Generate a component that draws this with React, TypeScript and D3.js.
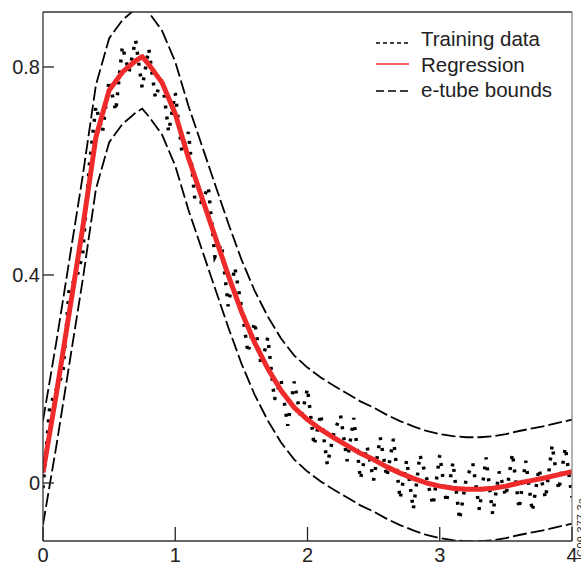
import React from "react";
import * as d3 from "d3";

// Regression curve
const regX = [0, 0.1, 0.2, 0.3, 0.4, 0.5, 0.6, 0.7, 0.75, 0.8, 0.9, 1.0, 1.1, 1.2, 1.3, 1.4, 1.5, 1.6, 1.7, 1.8, 1.9, 2.0, 2.1, 2.2, 2.3, 2.4, 2.5, 2.6, 2.7, 2.8, 2.9, 3.0, 3.1, 3.2, 3.3, 3.4, 3.5, 3.6, 3.7, 3.8, 3.9, 4.0];
const regY = [0.02, 0.17, 0.33, 0.49, 0.665, 0.755, 0.79, 0.812, 0.82, 0.805, 0.77, 0.71, 0.625, 0.55, 0.475, 0.40, 0.33, 0.27, 0.22, 0.178, 0.145, 0.122, 0.103, 0.087, 0.072, 0.057, 0.045, 0.031, 0.019, 0.009, 0.0, -0.006, -0.01, -0.012, -0.012, -0.01, -0.006, 0.0, 0.005, 0.01, 0.016, 0.022];
const upperY = [0.12, 0.27, 0.43, 0.59, 0.765, 0.855, 0.89, 0.912, 0.92, 0.905, 0.87, 0.81, 0.725, 0.65, 0.575, 0.50, 0.43, 0.37, 0.32, 0.278, 0.245, 0.222, 0.203, 0.187, 0.172, 0.157, 0.145, 0.131, 0.119, 0.109, 0.1, 0.094, 0.09, 0.088, 0.088, 0.09, 0.094, 0.1, 0.105, 0.11, 0.116, 0.122];
const lowerY = [-0.08, 0.07, 0.23, 0.39, 0.565, 0.655, 0.69, 0.712, 0.72, 0.705, 0.67, 0.61, 0.525, 0.45, 0.375, 0.30, 0.23, 0.17, 0.12, 0.078, 0.045, 0.022, 0.003, -0.013, -0.028, -0.043, -0.055, -0.069, -0.081, -0.091, -0.1, -0.106, -0.11, -0.112, -0.112, -0.11, -0.106, -0.1, -0.095, -0.09, -0.084, -0.078];

// Noisy training data
const trainX = [0, 0.05, 0.1, 0.15, 0.2, 0.25, 0.3, 0.35, 0.4, 0.45, 0.5, 0.55, 0.6, 0.65, 0.7, 0.75, 0.8, 0.85, 0.9, 0.95, 1.0, 1.05, 1.1, 1.15, 1.2, 1.25, 1.3, 1.35, 1.4, 1.45, 1.5, 1.55, 1.6, 1.65, 1.7, 1.75, 1.8, 1.85, 1.9, 1.95, 2.0, 2.05, 2.1, 2.15, 2.2, 2.25, 2.3, 2.35, 2.4, 2.45, 2.5, 2.55, 2.6, 2.65, 2.7, 2.75, 2.8, 2.85, 2.9, 2.95, 3.0, 3.05, 3.1, 3.15, 3.2, 3.25, 3.3, 3.35, 3.4, 3.45, 3.5, 3.55, 3.6, 3.65, 3.7, 3.75, 3.8, 3.85, 3.9, 3.95, 4.0];
const trainY = [-0.01, 0.145, 0.18, 0.21, 0.38, 0.39, 0.44, 0.61, 0.725, 0.675, 0.775, 0.715, 0.84, 0.79, 0.852, 0.76, 0.835, 0.74, 0.78, 0.675, 0.75, 0.638, 0.675, 0.54, 0.54, 0.57, 0.435, 0.46, 0.34, 0.415, 0.34, 0.25, 0.31, 0.225, 0.28, 0.16, 0.198, 0.11, 0.195, 0.123, 0.182, 0.072, 0.133, 0.035, 0.097, 0.13, 0.042, 0.125, 0.007, 0.071, 0.005, 0.088, 0.011, 0.085, -0.031, 0.044, -0.051, 0.054, 0.01, -0.043, 0.054, -0.038, 0.04, -0.071, 0.008, 0.038, -0.052, 0.049, -0.06, 0.022, -0.026, 0.057, -0.05, 0.043, -0.055, 0.028, -0.03, 0.073, -0.014, 0.069, -0.028];

const xTicks = [0, 1, 2, 3, 4];
const xTickLabels = ["0", "1", "2", "3", "4"];
const yTicks = [0, 0.4, 0.8];
const yTickLabels = ["0", "0.4", "0.8"];
const legendLabels = ["Training data", "Regression", "e-tube bounds"];
const figureId = "IG09-377-3a";

const FONT = "'Liberation Sans', Arial, Helvetica, sans-serif";

export default function App() {
  const W = 581;
  const H = 565;
  const left = 43, right = 572, top = 12, bottom = 541;
  const x = d3.scaleLinear().domain([0, 4]).range([left, right]);
  const y = d3.scaleLinear().domain([0, 0.8]).range([483, 67]);

  const line = d3
    .line<[number, number]>()
    .x((d) => x(d[0]))
    .y((d) => y(d[1]));

  const regPath = line(regX.map((v, i) => [v, regY[i]]) as [number, number][]) || "";
  const upPath = line(regX.map((v, i) => [v, upperY[i]]) as [number, number][]) || "";
  const loPath = line(regX.map((v, i) => [v, lowerY[i]]) as [number, number][]) || "";
  const trainPath = line(trainX.map((v, i) => [v, trainY[i]]) as [number, number][]) || "";

  const legendY = [43, 64, 91];
  const legendTextY = [46, 72, 97];

  return (
    <svg
      width={W}
      height={H}
      style={{ position: "absolute", left: 0, top: 0, background: "#fff" }}
      fontFamily={FONT}
    >
      <defs>
        <clipPath id="plot">
          <rect x={left} y={top} width={right - left} height={bottom - top} />
        </clipPath>
      </defs>
      <rect x={0} y={0} width={W} height={H} fill="#fff" />
      <g clipPath="url(#plot)">
        <path d={trainPath} fill="none" stroke="#000" strokeWidth={3.5} strokeDasharray="3,8" />
        <path d={upPath} fill="none" stroke="#000" strokeWidth={1.8} strokeDasharray="14,4" />
        <path d={loPath} fill="none" stroke="#000" strokeWidth={1.8} strokeDasharray="14,4" />
        <path d={regPath} fill="none" stroke="#ee2a2a" strokeWidth={5} strokeLinejoin="round" />
      </g>
      {/* frame */}
      <line x1={left} y1={top} x2={right} y2={top} stroke="#333" strokeWidth={1.3} />
      <line x1={right} y1={top} x2={right} y2={bottom} stroke="#888" strokeWidth={1.3} />
      <line x1={left} y1={top} x2={left} y2={bottom} stroke="#333" strokeWidth={1.3} />
      <line x1={left} y1={bottom} x2={right} y2={bottom} stroke="#333" strokeWidth={1.3} />
      {/* ticks */}
      {xTicks.map((t, i) => (
        <g key={"xt" + i}>
          <line x1={x(t)} x2={x(t)} y1={bottom} y2={bottom - 14} stroke="#222" strokeWidth={1.3} />
          <text x={x(t)} y={562} textAnchor="middle" fontSize={20} fill="#222">
            {xTickLabels[i]}
          </text>
        </g>
      ))}
      {yTicks.map((t, i) => (
        <g key={"yt" + i}>
          <line x1={left} x2={left + 11} y1={y(t)} y2={y(t)} stroke="#222" strokeWidth={1.3} />
          <text x={40} y={y(t) + 7} textAnchor="end" fontSize={20} fill="#222">
            {yTickLabels[i]}
          </text>
        </g>
      ))}
      {/* legend */}
      <line x1={376} x2={409} y1={legendY[0]} y2={legendY[0]} stroke="#000" strokeWidth={1.5} strokeDasharray="4,3" />
      <line x1={376} x2={409} y1={legendY[1]} y2={legendY[1]} stroke="#ee2a2a" strokeWidth={1.5} />
      <line x1={376} x2={409} y1={legendY[2]} y2={legendY[2]} stroke="#000" strokeWidth={1.5} strokeDasharray="8,4" />
      {legendLabels.map((s, i) => (
        <text key={"lg" + i} x={421} y={legendTextY[i]} fontSize={20.5} fill="#222">
          {s}
        </text>
      ))}
      <text transform={`translate(585,560) rotate(-90)`} fontSize={11} fill="#333">
        {figureId}
      </text>
    </svg>
  );
}
